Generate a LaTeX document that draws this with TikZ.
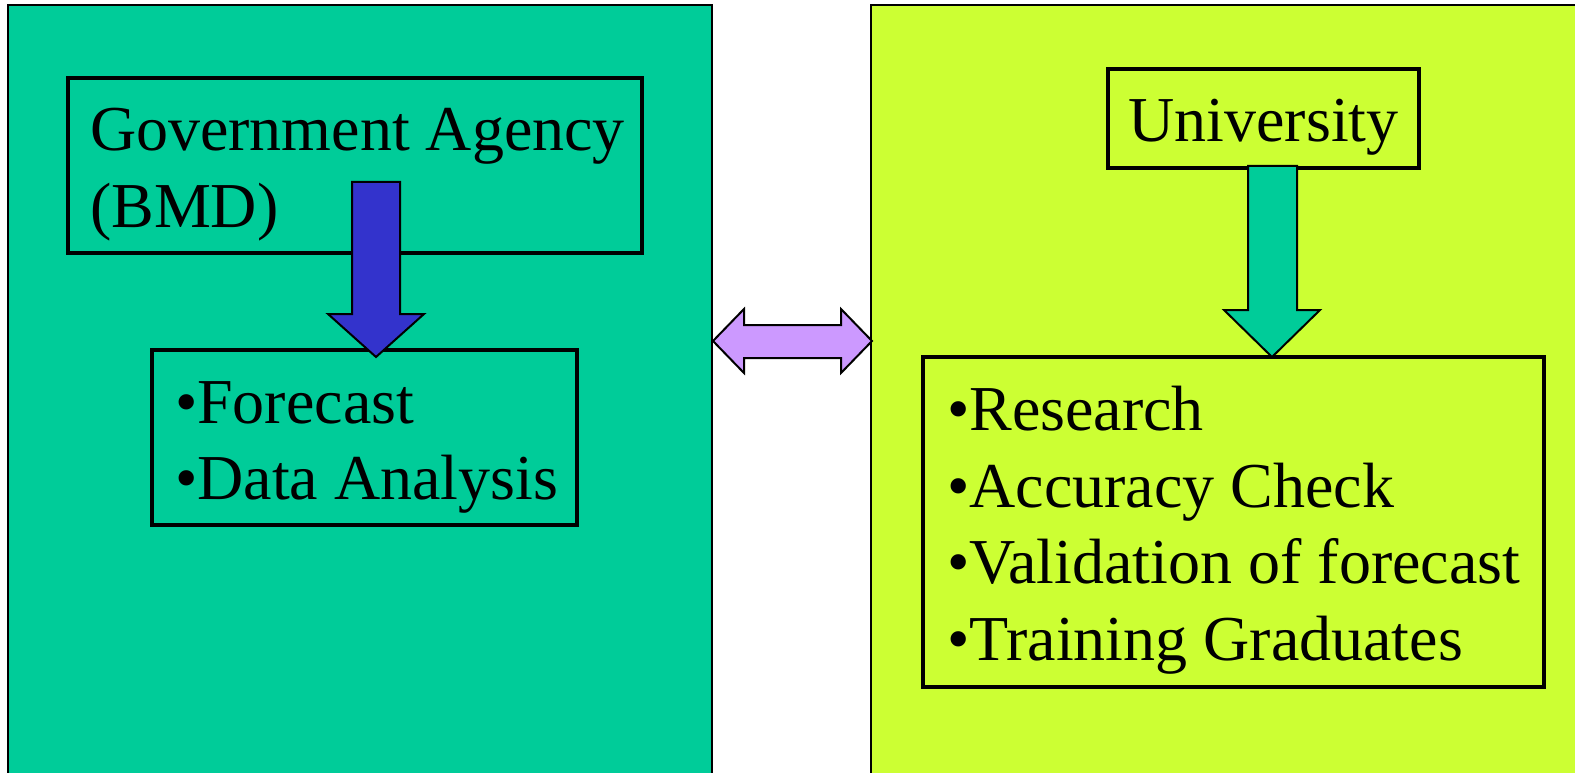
\documentclass[tikz,border=0pt]{standalone}
\usepackage{fontspec}
\setmainfont{Liberation Serif}
\definecolor{panelteal}{HTML}{00CC99}
\definecolor{panellime}{HTML}{CCFF33}
\definecolor{arrowblue}{HTML}{3333CC}
\definecolor{arrowlilac}{HTML}{CC99FF}
\begin{document}
\begin{tikzpicture}[x=1pt,y=-1pt,
  panel/.style={draw=black, line width=1.8pt, anchor=north west, inner sep=0pt, outer sep=0pt},
  box/.style={draw=black, line width=3.2pt, anchor=north west, inner sep=0pt, outer sep=0pt},
  txt/.style={inner sep=0pt, outer sep=0pt, anchor=base west, font=\fontsize{64}{77}\selectfont},
  blockarrow/.style={draw=black, line width=2pt, line join=miter}]
\useasboundingbox (0,0) rectangle (1575,773);
\begin{scope}
\clip (0,0) rectangle (1575,773);
% panels
\node[panel, fill=panelteal, minimum width=704, minimum height=820] (leftpanel) at (8,5) {};
\node[panel, fill=panellime, minimum width=760, minimum height=820] (rightpanel) at (871,5) {};
% left boxes
\node[box, minimum width=574, minimum height=175] (gov) at (68,78) {};
\node[txt] (govA) at (90,151) {Government Agency};
\node[txt] (govB) at (90,227) {(BMD)};
\node[box, minimum width=425, minimum height=175] (fc) at (152,350) {};
\node[txt] (fcA) at (175,423) {•Forecast};
\node[txt] (fcB) at (175,499) {•Data Analysis};
% right boxes
\node[box, minimum width=311, minimum height=99] (uni) at (1108,69) {};
\node[txt, anchor=base] (uniT) at (1263.5,142) {University};
\node[box, minimum width=621, minimum height=330] (res) at (923,357) {};
\node[txt] (resA) at (947,430) {•Research};
\node[txt] (resB) at (947,507) {•Accuracy Check};
\node[txt] (resC) at (947,583) {•Validation of forecast};
\node[txt] (resD) at (947,660) {•Training Graduates};
% block arrows
\draw[blockarrow, fill=arrowblue] (352,182) -- (400,182) -- (400,314) -- (424,314) -- (376,357) -- (328,314) -- (352,314) -- cycle;
\draw[blockarrow, fill=panelteal] (1248,166) -- (1297,166) -- (1297,310) -- (1320,310) -- (1272,357) -- (1224,310) -- (1248,310) -- cycle;
\draw[blockarrow, fill=arrowlilac] (713,341) -- (744,309) -- (744,325) -- (841,325) -- (841,309) -- (872,341) -- (841,373) -- (841,358) -- (744,358) -- (744,373) -- cycle;
\end{scope}
\end{tikzpicture}
\end{document}
